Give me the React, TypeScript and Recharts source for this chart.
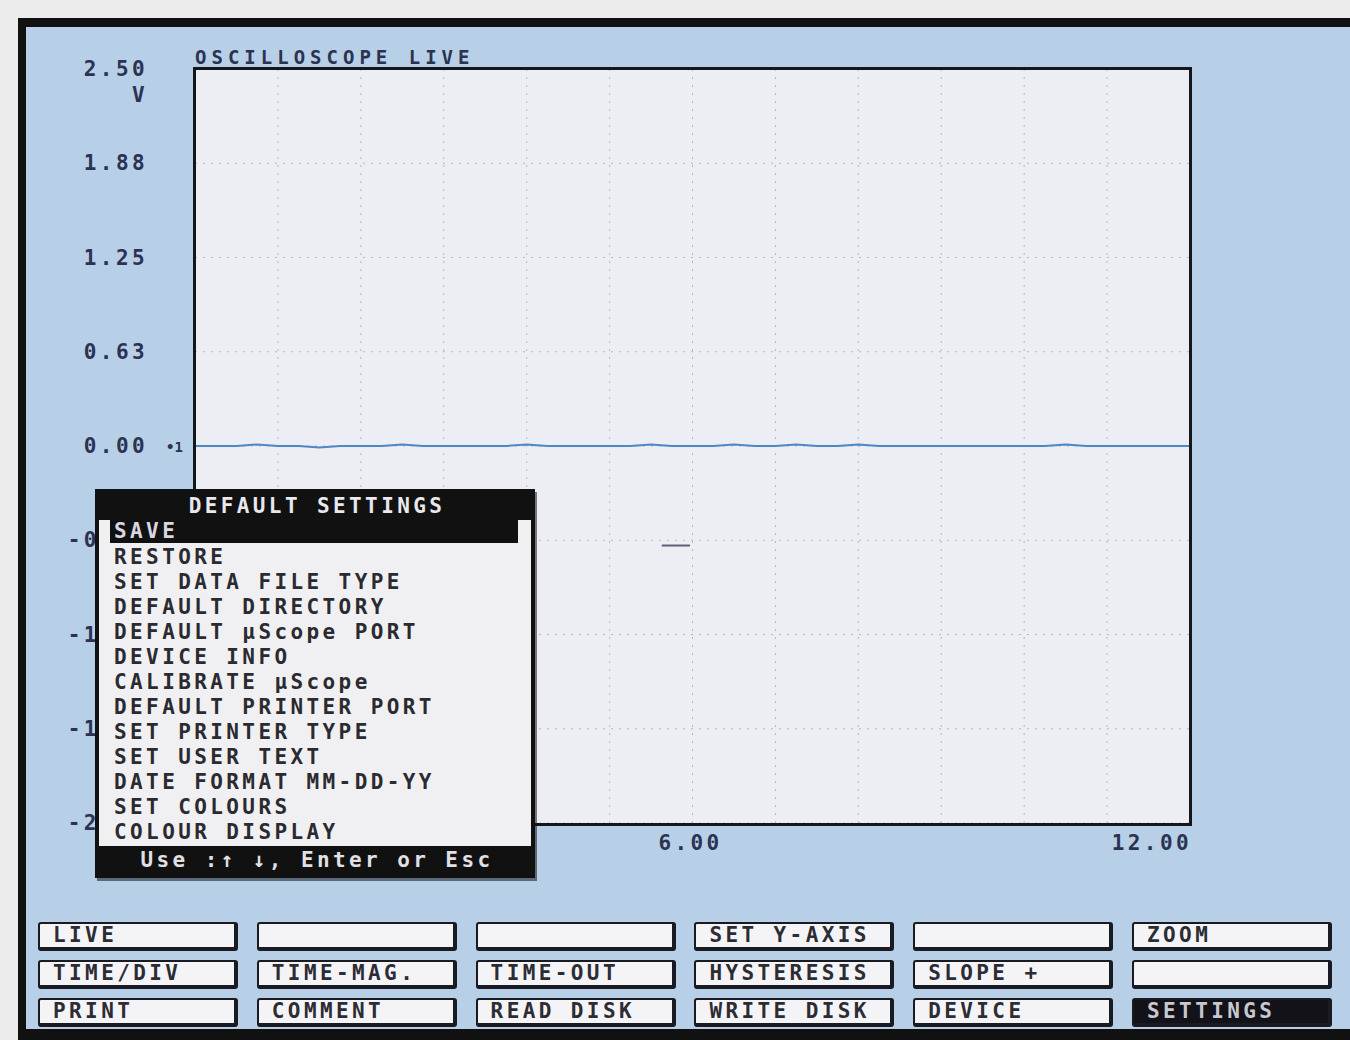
import React from "react";
import { LineChart, Line, XAxis, YAxis, CartesianGrid, ReferenceLine } from "recharts";

// sample times (ms) and channel 1 voltage
const TIME = [
  0, 0.25, 0.5, 0.75, 1, 1.25, 1.5, 1.75, 2, 2.25, 2.5, 2.75, 3, 3.25, 3.5, 3.75, 4, 4.25, 4.5, 4.75, 5, 5.25, 5.5,
  5.75, 6, 6.25, 6.5, 6.75, 7, 7.25, 7.5, 7.75, 8, 8.25, 8.5, 8.75, 9, 9.25, 9.5, 9.75, 10, 10.25, 10.5, 10.75, 11,
  11.25, 11.5, 11.75, 12,
];
const VOLTS = [
  0, 0, 0, 0.01, 0, 0, -0.01, 0, 0, 0, 0.01, 0, 0, 0, 0, 0, 0.01, 0, 0, 0, 0, 0, 0.01, 0, 0, 0, 0.01, 0, 0, 0.01, 0,
  0, 0.01, 0, 0, 0, 0, 0, 0, 0, 0, 0, 0.01, 0, 0, 0, 0, 0, 0,
];

const Y_TICKS = [2.5, 1.875, 1.25, 0.625, 0, -0.625, -1.25, -1.875, -2.5];
const Y_LABELS = ["2.50", "1.88", "1.25", "0.63", "0.00", "-0.63", "-1.25", "-1.88", "-2.50"];
const X_TICKS = [0, 1, 2, 3, 4, 5, 6, 7, 8, 9, 10, 11, 12];
// 0.00 sits under the settings menu in the reference, so only these show
const X_LABELS: Record<number, string> = { 6: "6.00", 12: "12.00" };
const Y_UNIT = "V";
const TITLE = "OSCILLOSCOPE LIVE";

// trigger level marker (small dash inside the plot)
const TRIG_T = [5.63, 5.97];
const TRIG_V = -0.66;

const MENU_TITLE = "DEFAULT SETTINGS";
const MENU_ITEMS = [
  "SAVE",
  "RESTORE",
  "SET DATA FILE TYPE",
  "DEFAULT DIRECTORY",
  "DEFAULT µScope PORT",
  "DEVICE INFO",
  "CALIBRATE µScope",
  "DEFAULT PRINTER PORT",
  "SET PRINTER TYPE",
  "SET USER TEXT",
  "DATE FORMAT MM-DD-YY",
  "SET COLOURS",
  "COLOUR DISPLAY",
];
const MENU_HINT = "Use :↑ ↓, Enter or Esc";

const BUTTON_ROWS = [
  ["LIVE", "", "", "SET Y-AXIS", "", "ZOOM"],
  ["TIME/DIV", "TIME-MAG.", "TIME-OUT", "HYSTERESIS", "SLOPE +", ""],
  ["PRINT", "COMMENT", "READ DISK", "WRITE DISK", "DEVICE", "SETTINGS"],
];
const ACTIVE_BUTTON = "SETTINGS";

const FONT = "'DejaVu Sans Mono', 'Liberation Mono', monospace";
const FS = 21;
const LS = 3.4;
const BLUE = "#b7cfe7";
const INK = "#2b3350";

const data = TIME.map((t, i) => ({ t, v: VOLTS[i] }));

const YTick = (props: any) => {
  const { y, payload } = props;
  const idx = Y_TICKS.indexOf(payload.value);
  return (
    <g>
      <text x={148} y={y + 7} textAnchor="end" fontFamily={FONT} fontWeight="bold" fontSize={FS} letterSpacing={LS} fill={INK}>
        {Y_LABELS[idx]}
      </text>
      {payload.value === 2.5 && (
        <text x={148} y={y + 33} textAnchor="end" fontFamily={FONT} fontWeight="bold" fontSize={FS} letterSpacing={LS} fill={INK}>
          {Y_UNIT}
        </text>
      )}
    </g>
  );
};

const XTick = (props: any) => {
  const { x, payload } = props;
  const label = X_LABELS[payload.value];
  if (!label) return <g />;
  const anchor = payload.value === 12 ? "end" : "middle";
  return (
    <text x={anchor === "end" ? x + 2 : x - 2} y={850} textAnchor={anchor} fontFamily={FONT} fontWeight="bold" fontSize={FS} letterSpacing={LS} fill={INK}>
      {label}
    </text>
  );
};

const mono: React.CSSProperties = {
  fontFamily: FONT,
  fontWeight: "bold",
  fontSize: FS,
  letterSpacing: LS,
  whiteSpace: "pre",
};

export default function App() {
  return (
    <div style={{ position: "absolute", left: 0, top: 0, width: 1350, height: 1040, background: "#ececec", overflow: "hidden" }}>
      {/* screen frame */}
      <div style={{ position: "absolute", left: 18, top: 18, width: 1332, height: 1022, background: "#111" }} />
      <div style={{ position: "absolute", left: 26, top: 27, width: 1324, height: 1002, background: BLUE }} />

      <LineChart
        width={1350}
        height={1040}
        data={data}
        margin={{ top: 69, right: 160, bottom: 187, left: 75 }}
        style={{ position: "absolute", left: 0, top: 0 }}
      >
        <CartesianGrid stroke="#b4b8c6" strokeDasharray="2 6" fill="#eceef3" fillOpacity={1} />
        <XAxis
          dataKey="t"
          type="number"
          domain={[0, 12]}
          ticks={X_TICKS}
          interval={0}
          axisLine={false}
          tickLine={false}
          tick={XTick}
        />
        <YAxis
          type="number"
          domain={[-2.5, 2.5]}
          ticks={Y_TICKS}
          interval={0}
          width={120}
          axisLine={false}
          tickLine={false}
          tick={YTick}
        />
        <ReferenceLine
          segment={[
            { x: TRIG_T[0], y: TRIG_V },
            { x: TRIG_T[1], y: TRIG_V },
          ]}
          stroke="#5a6078"
          strokeWidth={2}
        />
        <Line type="linear" dataKey="v" stroke="#4f86c6" strokeWidth={2} dot={false} isAnimationActive={false} />
      </LineChart>

      {/* plot border and title */}
      <div style={{ position: "absolute", left: 193, top: 67, width: 999, height: 759, border: "3px solid #15161c", boxSizing: "border-box" }} />
      <div style={{ ...mono, position: "absolute", left: 195, top: 46, fontSize: 19, letterSpacing: 5, color: INK, lineHeight: "22px" }}>
        {TITLE}
      </div>
      <div style={{ ...mono, position: "absolute", left: 166, top: 436, fontSize: 14, letterSpacing: 0, color: INK, lineHeight: "22px" }}>
        •1
      </div>

      {/* settings menu */}
      <div
        style={{
          position: "absolute",
          left: 95,
          top: 489,
          width: 440,
          height: 389,
          background: "#f0f0f2",
          border: "4px solid #111",
          boxSizing: "border-box",
          boxShadow: "2px 3px 0 rgba(20,20,30,0.55)",
        }}
      >
        <div style={{ ...mono, background: "#111", color: "#e8e8ee", height: 27, lineHeight: "27px", textAlign: "center", paddingLeft: 4 }}>
          {MENU_TITLE}
        </div>
        {MENU_ITEMS.map((item, i) => (
          <div
            key={item}
            style={{
              ...mono,
              position: "absolute",
              left: 11,
              top: 27 + i * 25,
              width: i === 0 ? 408 : 400,
              height: i === 0 ? 23 : 25,
              lineHeight: i === 0 ? "23px" : "25px",
              paddingLeft: 4,
              background: i === 0 ? "#111" : "transparent",
              color: i === 0 ? "#d8d8e0" : "#2a2a30",
              boxSizing: "border-box",
            }}
          >
            {item}
          </div>
        ))}
        <div
          style={{
            ...mono,
            position: "absolute",
            left: 0,
            right: 0,
            bottom: 0,
            height: 28,
            lineHeight: "28px",
            background: "#111",
            color: "#e0e0e6",
            textAlign: "center",
            paddingLeft: 4,
          }}
        >
          {MENU_HINT}
        </div>
      </div>

      {/* function key buttons */}
      {BUTTON_ROWS.map((row, r) =>
        row.map((label, c) => {
          const active = label === ACTIVE_BUTTON;
          return (
            <div
              key={`${r}-${c}`}
              style={{
                ...mono,
                position: "absolute",
                left: 38 + c * 218.8,
                top: 922 + r * 38,
                width: 200,
                height: 29,
                lineHeight: "23px",
                paddingLeft: 13,
                boxSizing: "border-box",
                background: active ? "#121218" : "#f4f4f6",
                color: active ? "#c8c8d0" : "#2c2c34",
                border: "2px solid #1a1a22",
                borderRightWidth: 4,
                borderBottomWidth: 4,
                borderRadius: 3,
              }}
            >
              {label}
            </div>
          );
        })
      )}
    </div>
  );
}
